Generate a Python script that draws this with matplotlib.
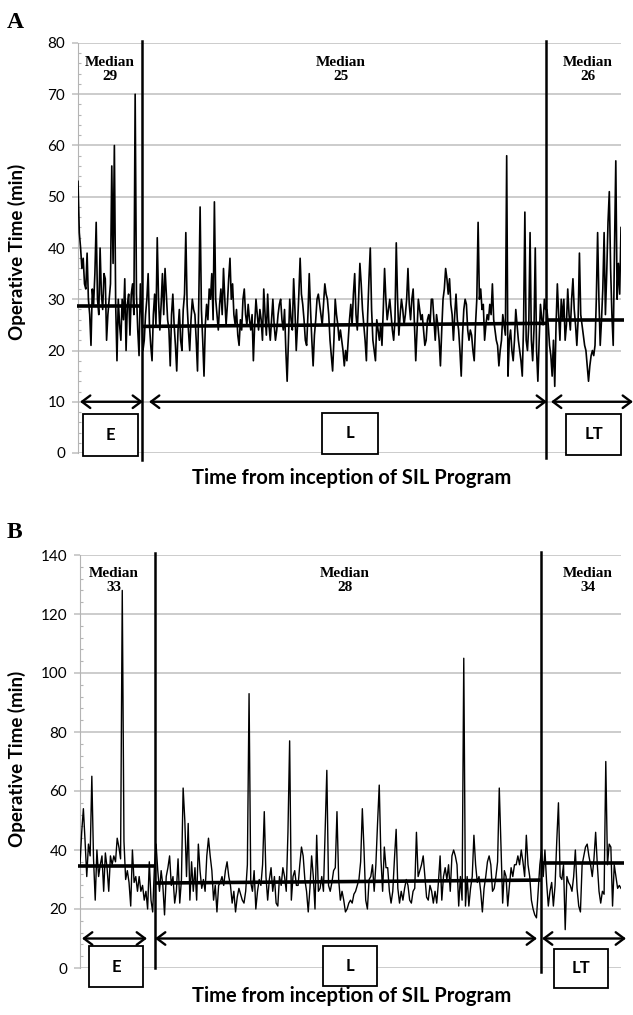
import numpy as np
import matplotlib.pyplot as plt
from matplotlib.patches import Rectangle

plt.rcParams['font.family'] = ['Lato', 'DejaVu Sans']

W, H = 633, 1015

# ---- panel A: operative time per case (min), in the three phases
a_early = [53, 43, 40, 36, 38, 33, 32, 39, 30, 27, 21, 32, 29, 35, 45, 30, 27, 40, 31, 28,
           35, 34, 22, 27, 30, 33, 56, 37, 60, 29, 18, 30, 25, 22, 30, 26, 34, 20, 29, 31,
           23, 31, 33, 27, 70, 31, 24, 19, 33, 27]
a_learn = [20, 22, 27, 30, 35, 25, 21, 18, 27, 31, 25, 42, 30, 24, 29, 35, 27, 36, 31, 26,
           24, 17, 27, 31, 25, 21, 16, 24, 28, 22, 20, 28, 31, 43, 29, 24, 20, 26, 30, 28,
           27, 22, 16, 30, 48, 28, 22, 15, 25, 29, 26, 32, 30, 35, 26, 49, 30, 27, 24, 29,
           32, 27, 36, 30, 25, 29, 34, 38, 30, 33, 27, 25, 28, 23, 21, 26, 24, 30, 32, 27,
           25, 29, 26, 24, 27,
           18, 25, 30, 27, 24, 28, 26, 22, 32, 27, 23, 31, 25, 22, 26, 30, 25, 22, 24, 27,
           29, 30, 26, 24, 28, 20, 14, 22, 30, 26, 24, 34, 28, 20, 25, 31, 38, 31, 29, 26,
           22, 21, 27, 35, 28, 22, 17, 23, 26, 30, 31, 29, 27, 25, 29, 33, 31, 30, 27, 22,
           19, 16, 22, 30, 27, 25, 22, 24, 22, 20, 17, 20, 18, 22, 26, 29, 25, 31, 35, 27,
           24, 30, 37, 33, 28, 25, 22, 18, 27, 34, 40, 28, 22, 20, 18, 26, 24, 22, 25, 21,
           28, 36, 30, 26, 28, 30, 27, 24, 22, 26, 41, 30, 23, 27, 30, 28, 25, 27, 30, 36,
           29, 26, 30, 32, 25, 18, 24, 30, 28, 26, 27, 24, 21, 22, 26, 27, 25, 30,
           30, 26, 22, 27, 25, 22, 17, 24, 30, 32, 36, 34, 31, 34, 29, 27, 22, 27, 31, 26,
           24, 20, 15, 23, 28, 30, 29, 24, 22, 24, 23, 20, 18, 25, 30, 45, 30, 32, 28, 29,
           22, 25, 27, 26, 29, 27, 33, 26, 24, 22, 21, 17, 20, 22, 27, 25, 23, 58, 15, 22,
           24, 20, 18, 22, 28, 25, 22, 20, 18, 15, 25, 47, 22, 20, 25, 43, 22, 18, 24, 40,
           20, 14, 22, 29, 26, 25, 30, 28]
a_late = [28, 25, 21, 19, 15, 22, 13, 25, 33, 27, 22, 30, 26, 30, 22, 25, 32, 27, 24, 30,
          34, 28, 25, 21, 26, 39, 27, 25, 23, 21, 20, 17, 14, 17, 19, 20, 19, 21, 30, 43,
          30, 21, 26, 32, 43, 27, 35, 45, 51, 36, 27, 21, 40, 57, 30, 37, 31, 44]
a_median = ['29', '25', '26']
a_level = [(28.6, 28.6), (24.7, 25.3), (26.0, 26.0)]

# ---- panel B
b_early = [35, 46, 54, 43, 31, 42, 38, 65, 37, 23, 40, 31, 35, 38, 26, 39, 34, 26, 38, 35,
           38, 36, 44, 41, 37, 128, 43, 30, 33, 29, 21, 40, 29, 31, 26, 31, 26, 28, 23, 26,
           20, 36, 23, 19, 34]
b_learn = [42, 33, 26, 33, 28, 18, 31, 34, 38, 28, 31, 22, 26, 37, 22, 30, 61, 50, 31, 49,
           23, 36, 26, 34, 23, 42, 33, 27, 30, 26, 38, 44, 38, 33, 23, 28, 19, 28, 29, 31,
           28, 33, 36, 31, 28, 22, 26, 19, 24, 27, 25, 23, 22, 26, 35, 93, 29, 26, 33, 20,
           26, 30, 28,
           35, 53, 31, 23, 30, 34, 26, 31, 22, 21, 31, 28, 34, 31, 26, 46, 77, 23, 31, 33,
           28, 28, 35, 41, 38, 30, 26, 19, 27, 38, 31, 20, 45, 26, 27, 31, 26, 46, 67, 28,
           26, 29, 33, 34, 53, 30, 23, 26, 23, 19, 20, 22, 23, 22, 25, 26, 28, 30, 36, 54,
           40, 23, 20, 30, 31, 35, 26, 35, 49, 62, 37, 26, 41, 34, 34, 26, 22, 26, 37, 47,
           27, 22, 26, 23, 27, 30, 28, 23, 22, 26, 27, 46, 31, 33, 35, 38, 31, 24, 23, 28,
           26, 22, 26, 22, 29,
           38, 23, 31, 34, 30, 35, 26, 38, 40, 38, 35, 21, 31, 23, 105, 21, 31, 21, 27, 31,
           45, 35, 29, 31, 26, 19, 27, 31, 36, 38, 35, 26, 27, 31, 36, 61, 41, 22, 33, 31,
           21, 28, 34, 31, 35, 35, 38, 35, 40, 36, 31, 45, 35, 31, 23, 20, 18, 17, 26, 35]
b_late = [40, 31, 40, 29, 21, 26, 29, 21, 28, 43, 56, 31, 30, 35, 13, 31, 29, 28, 26, 31,
          40, 27, 21, 19, 35, 38, 41, 42, 38, 35, 31, 37, 46, 35, 26, 22, 26, 25, 70, 35,
          42, 41, 21, 35, 31, 27, 28, 27]
b_median = ['33', '28', '34']
b_level = [(34.5, 34.5), (28.8, 29.8), (35.6, 35.6)]

phases = ['E', 'L', 'LT']
xlabel = 'Time from inception of SIL Program'
ylabel = 'Operative Time (min)'

fig = plt.figure(figsize=(W / 100, H / 100), dpi=100)


def panel(box, ymax, step, minor, parts, level, medians, lay):
    l, r, t, b = box
    ax = fig.add_axes([l / W, 1 - b / H, (r - l) / W, (b - t) / H])
    fx = lambda p: (p - l) / (r - l)          # figure pixel -> axes fraction
    tr = ax.get_yaxis_transform()

    y = np.concatenate(parts)
    n = len(y)
    x = np.arange(n)
    ax.plot(x, y, color='black', lw=lay['lw'], zorder=3)
    ax.set_xlim(0, n - 1)
    ax.set_ylim(0, ymax)

    # phase medians and boundaries
    edges = np.cumsum([len(p) for p in parts])
    starts = [-1, edges[0] - 0.5, edges[1] - 0.5]
    ends = [edges[0] - 0.5, edges[1] - 0.5, n + 1]
    for s, e, (v0, v1) in zip(starts, ends, level):
        ax.plot([s, e], [v0, v1], color='black', lw=2.6, solid_capstyle='butt',
                zorder=4, clip_on=False)
    for bx, (y0, y1) in zip(starts[1:], lay['vlines']):
        ax.plot([bx, bx], [y0, y1], color='black', lw=1.8, zorder=5, clip_on=False)

    # axis cosmetics
    ax.set_yticks(np.arange(0, ymax + 1, step))
    ax.set_yticks(np.arange(0, ymax + 1, minor), minor=True)
    ax.set_xticks([])
    ax.grid(axis='y', color='#c4c4c4', lw=1.2)
    ax.set_axisbelow(True)
    for sp in ['top', 'right', 'bottom']:
        ax.spines[sp].set_visible(False)
    ax.spines['left'].set_color('#b4b4b4')
    ax.tick_params(axis='y', which='major', length=4.3, width=1.2, color='#c4c4c4',
                   labelsize=11, pad=5)
    ax.tick_params(axis='y', which='minor', length=2.5, width=0.8, color='#b4b4b4',
                   direction='in')

    # median labels
    for px, m in zip(lay['mx'], medians):
        ax.text(fx(px), lay['my'], 'Median\n' + m, transform=tr, ha='center', va='center',
                family='Liberation Serif', weight='bold', fontsize=11, linespacing=1.1,
                zorder=2)

    # phase arrows and boxes
    for (x0, x1), (bx0, bx1, by0, by1), lab in zip(lay['arrows'], lay['boxes'], phases):
        ax.annotate('', xy=(fx(x1), 10), xytext=(fx(x0), 10), xycoords=tr, textcoords=tr,
                    arrowprops=dict(arrowstyle='<->,head_length=0.6,head_width=0.45',
                                    lw=1.7, color='black', shrinkA=0, shrinkB=0),
                    annotation_clip=False)
        ax.add_patch(Rectangle((fx(bx0), by0), fx(bx1) - fx(bx0), by1 - by0, transform=tr,
                               facecolor='white', edgecolor='black', lw=1.3,
                               clip_on=False, zorder=6))
        ax.text(fx((bx0 + bx1) / 2), (by0 + by1) / 2, lab, transform=tr, ha='center',
                va='center', fontsize=12, weight='bold', zorder=7)
    return ax


panel((78, 621, 43, 453), 80, 10, 2, [a_early, a_learn, a_late], a_level, a_median,
      dict(lw=1.2, vlines=[(-1.3, 80.3), (-1.0, 80.3)],
           mx=[110, 341, 588], my=74.8,
           arrows=[(80, 143), (149, 547), (551, 633)],
           boxes=[(83, 138, -0.6, 7.6), (322, 378, -0.1, 7.8), (566, 621, -0.3, 7.7)]))

panel((80, 621, 555, 968), 140, 20, 4, [b_early, b_learn, b_late], b_level, b_median,
      dict(lw=1.0, vlines=[(0, 140.7), (-1.4, 141.0)],
           mx=[114, 345, 588], my=131.2,
           arrows=[(82, 147), (155, 537), (542, 626)],
           boxes=[(89, 143, -6.4, 7.3), (323, 377, -6.1, 7.6), (554, 608, -6.8, 6.5)]))

# titles / labels in figure pixels
for ty, ly in [(478, 252), (996, 759)]:
    fig.text(352 / W, 1 - ty / H, xlabel, ha='center', va='center', fontsize=14.5,
             weight='bold')
    fig.text(17 / W, 1 - ly / H, ylabel, ha='center', va='center', rotation=90,
             fontsize=13.5, weight='bold')
fig.text(7 / W, 1 - 22 / H, 'A', ha='left', va='center', family='Liberation Serif',
         weight='bold', fontsize=17)
fig.text(7 / W, 1 - 533 / H, 'B', ha='left', va='center', family='Liberation Serif',
         weight='bold', fontsize=17)

fig.savefig('out.png', dpi=100, facecolor='white')
